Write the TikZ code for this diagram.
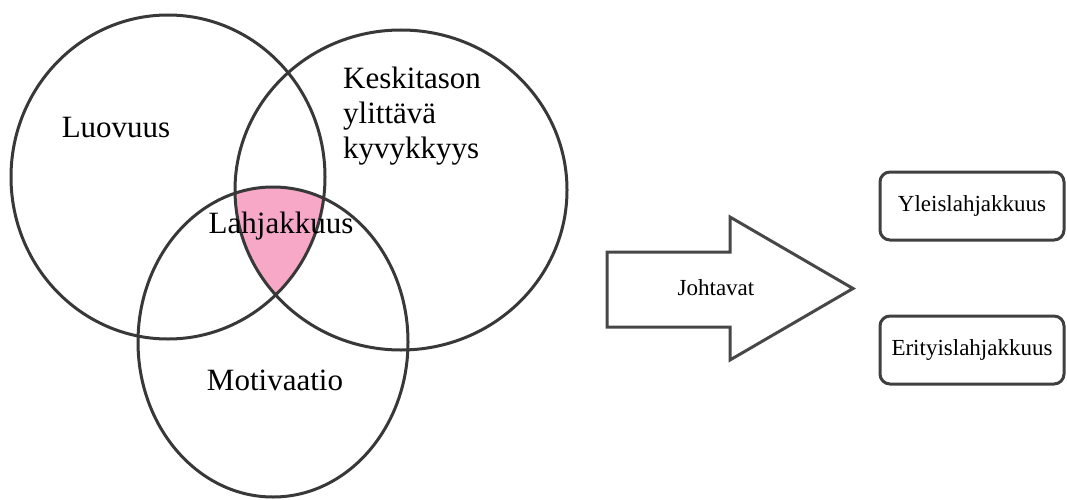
\documentclass[tikz,border=0pt]{standalone}
\usepackage{fontspec}
\setmainfont{Liberation Serif}
\usepackage{tikz}
\usetikzlibrary{positioning}

\definecolor{lahja}{RGB}{247,168,198}

\begin{document}
\begin{tikzpicture}[
  x=1pt, y=-1pt,
  venn/.style={draw=black!78, line width=3pt},
  big/.style={inner sep=0pt, font=\fontsize{31}{35}\selectfont},
  small/.style={inner sep=0pt, font=\fontsize{23}{27}\selectfont},
  arrowline/.style={draw=black!72, line width=3pt, line join=miter, fill=white},
  resbox/.style={draw=black!75, line width=3pt, rounded corners=10pt,
                 minimum width=184pt, minimum height=68pt, small}
]
\fill[white] (0,0) rectangle (1067,500);
\useasboundingbox (0,0) rectangle (1067,500);

% circle centres
\coordinate (cL) at (168,177);
\coordinate (cK) at (401,190);
\coordinate (cM) at (273,342);

% triple overlap
\begin{scope}
  \clip (cL) ellipse [x radius=157, y radius=162];
  \clip (cK) ellipse [x radius=166, y radius=160];
  \fill[lahja] (cM) ellipse [x radius=135, y radius=155];
\end{scope}

\draw[venn] (cL) ellipse [x radius=157, y radius=162];
\draw[venn] (cK) ellipse [x radius=166, y radius=160];
\draw[venn] (cM) ellipse [x radius=135, y radius=155];

\node[big, anchor=base] (luovuus) at (116,137) {Luovuus};
\node[big, anchor=west, align=left] (keski) at (343,116) {Keskitason\\ylittävä\\kyvykkyys};
\node[big, anchor=base] (lahjakkuus) at (281,233) {Lahjakkuus};
\node[big, anchor=base] (motivaatio) at (275,390) {Motivaatio};

% big arrow
\draw[arrowline] (607,252) -- (730,252) -- (730,217) -- (853,288.5)
  -- (730,360) -- (730,327) -- (607,327) -- cycle;
\node[small, anchor=base] (johtavat) at (716,295) {Johtavat};

\node[resbox] (yleis) at (972,206) {Yleislahjakkuus};
\node[resbox, below=73pt of yleis] (erityis) {Erityislahjakkuus};
\end{tikzpicture}
\end{document}
